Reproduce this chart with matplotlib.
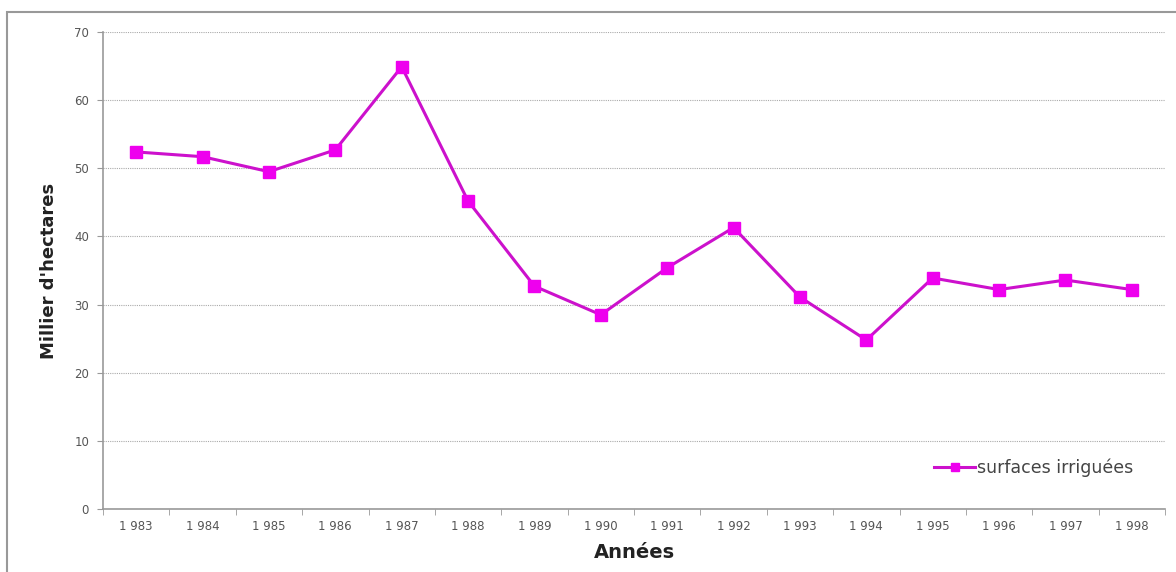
import matplotlib
matplotlib.use("Agg")
import matplotlib.pyplot as plt
from matplotlib.patches import Rectangle
import numpy as np

years = ["1 983", "1 984", "1 985", "1 986", "1 987", "1 988", "1 989", "1 990",
         "1 991", "1 992", "1 993", "1 994", "1 995", "1 996", "1 997", "1 998"]
surfaces = [52.4, 51.7, 49.5, 52.7, 64.9, 45.2, 32.7, 28.5,
            35.4, 41.3, 31.1, 24.8, 33.9, 32.2, 33.6, 32.2]
yticks = [0, 10, 20, 30, 40, 50, 60, 70]

fig = plt.figure(figsize=(11.76, 5.72), dpi=100)
fig.patch.set_facecolor("white")
# outer frame
fig.add_artist(Rectangle((7/1176, -0.05), 1.2, 1 - 12/572 + 0.05, transform=fig.transFigure,
                         fill=False, edgecolor="#999999", linewidth=1.5))

ax = fig.add_axes([103/1176, 1 - 509/572, (1165 - 103)/1176, (509 - 32)/572])
x = np.arange(len(years))
ax.plot(x, surfaces, color="#cc11cc", linewidth=2.2, marker="s", markersize=8,
        markerfacecolor="#ee00ee", markeredgecolor="#ee00ee", label="surfaces irriguées")

ax.set_xlim(-0.5, len(years) - 0.5)
ax.set_ylim(0, 70)
ax.set_yticks(yticks)
ax.set_yticklabels([str(v) for v in yticks])
ax.set_xticks(x)
ax.set_xticklabels(years)
ax.set_xticks(np.arange(-0.5, len(years), 1.0), minor=True)
ax.tick_params(axis="x", which="major", length=0, labelsize=8.5, labelcolor="#555555", pad=8)
ax.tick_params(axis="x", which="minor", length=4, color="#999999", direction="out")
ax.tick_params(axis="y", length=4, color="#999999", labelsize=8.5, labelcolor="#555555", pad=6)

ax.grid(axis="y", color="#aaaaaa", linestyle=(0, (1, 1)), linewidth=0.8)
ax.set_axisbelow(True)
for s in ["top", "right"]:
    ax.spines[s].set_visible(False)
ax.spines["left"].set_color("#999999")
ax.spines["bottom"].set_color("#999999")
ax.spines["left"].set_linewidth(1.2)
ax.spines["bottom"].set_linewidth(1.2)

ax.set_xlabel("Années", fontsize=14, fontweight="bold", color="#222222", labelpad=7)
ax.set_ylabel("Millier d'hectares", fontsize=13, fontweight="bold", color="#222222",
              labelpad=12)

leg = ax.legend(loc="lower right", bbox_to_anchor=(0.985, 0.035), frameon=False,
                fontsize=12.5, handlelength=2.4, handletextpad=0.1, markerscale=0.8)
for t in leg.get_texts():
    t.set_color("#444444")

fig.savefig("out.png", dpi=100)
